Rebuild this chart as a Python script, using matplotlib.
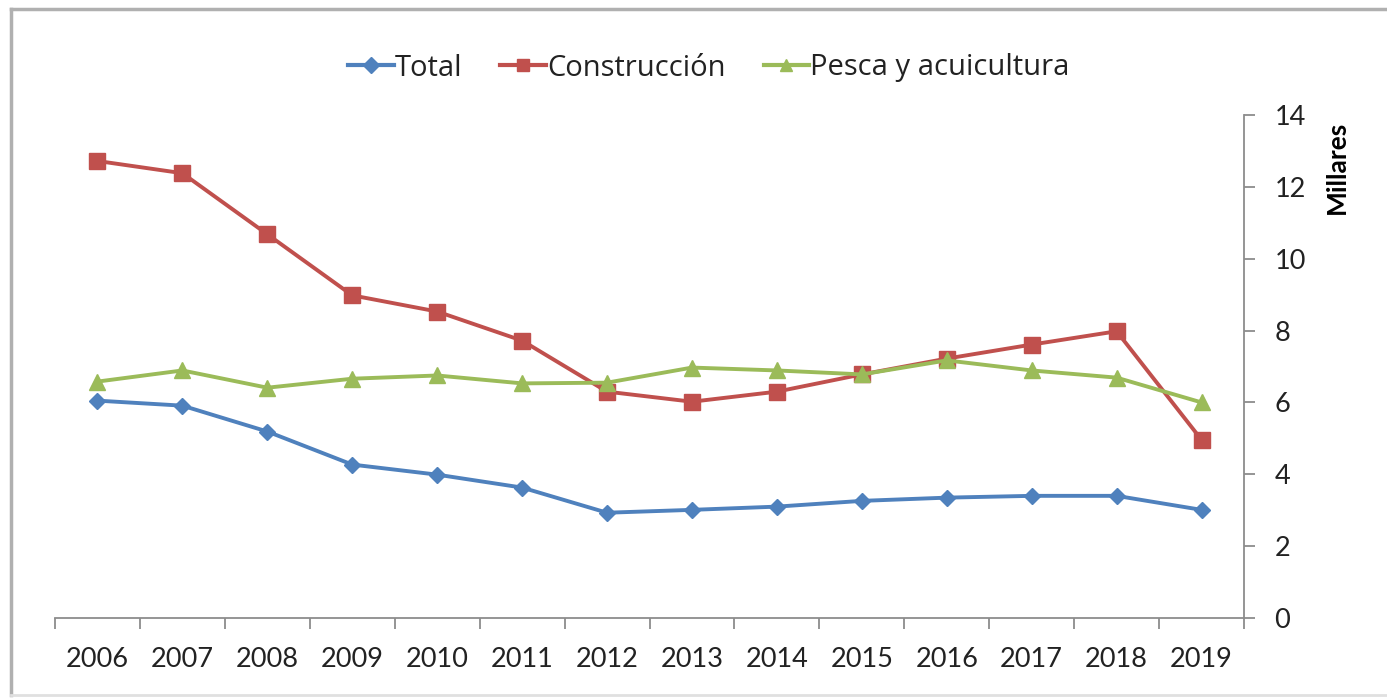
import matplotlib
matplotlib.use("Agg")
import matplotlib.pyplot as plt
from matplotlib.lines import Line2D
import numpy as np

years = ["2006", "2007", "2008", "2009", "2010", "2011", "2012",
         "2013", "2014", "2015", "2016", "2017", "2018", "2019"]
total = [6.05, 5.91, 5.19, 4.27, 3.99, 3.63, 2.93, 3.01, 3.10, 3.26, 3.35, 3.40, 3.40, 3.01]
construccion = [12.72, 12.38, 10.68, 8.98, 8.53, 7.72, 6.30, 6.02, 6.30, 6.78, 7.22, 7.61, 7.98, 4.96]
pesca = [6.58, 6.89, 6.41, 6.66, 6.75, 6.53, 6.55, 6.97, 6.89, 6.78, 7.17, 6.89, 6.69, 6.00]
series_names = ["Total", "Construcción", "Pesca y acuicultura"]
y_ticks = [0, 2, 4, 6, 8, 10, 12, 14]

plt.rcParams['font.family'] = ['Lato', 'DejaVu Sans']

fig = plt.figure(figsize=(13.87, 6.98), dpi=100)
ax = fig.add_axes([55/1387, 1-618/698, (1244-55)/1387, (618-115)/698])

x = np.arange(len(years))
blue, red, green = "#4F81BD", "#C0504D", "#9BBB59"
ax.plot(x, total, color=blue, lw=2.8, marker="D", ms=8, label=series_names[0])
ax.plot(x, construccion, color=red, lw=2.8, marker="s", ms=11, label=series_names[1])
ax.plot(x, pesca, color=green, lw=2.8, marker="^", ms=11, label=series_names[2])

ax.set_xlim(-0.5, len(years) - 0.5)
ax.set_ylim(0, 14)

ax.yaxis.tick_right()
ax.yaxis.set_label_position("right")
ax.set_yticks(y_ticks)
ax.set_yticklabels([str(v) for v in y_ticks], fontsize=19.5, color="#222222")
ax.tick_params(axis="y", length=8, width=1.3, color="#8c8c8c", pad=14)

ax.set_xticks(np.arange(-0.5, len(years), 1.0))
ax.set_xticklabels([])
ax.set_xticks(x, minor=True)
ax.set_xticklabels(years, minor=True, fontsize=19.5, color="#222222")
ax.tick_params(axis="x", which="major", length=8, width=1.3, color="#8c8c8c")
ax.tick_params(axis="x", which="minor", length=0, pad=21)

for s in ["top", "left"]:
    ax.spines[s].set_visible(False)
for s in ["bottom", "right"]:
    ax.spines[s].set_color("#8c8c8c")
    ax.spines[s].set_linewidth(1.3)

ax.set_ylabel("Millares", fontsize=19, fontweight="bold", labelpad=14)
ax.yaxis.set_label_coords(1.068, 0.895)

leg = fig.legend(loc="center", bbox_to_anchor=(709/1387, 1-68/698), ncol=3,
                 frameon=False, handlelength=1.55, columnspacing=1.3,
                 handletextpad=0.05, prop={"family": "Open Sans", "size": 21})
for h in leg.legend_handles:
    h.set_markersize(8)
    h.set_linewidth(3)
for t in leg.get_texts():
    t.set_color("#222222")

# outer border
fig.add_artist(Line2D([11/1387, 11/1387], [1-695/698, 1-9/698], color="#b0b0b0", lw=2.5))
fig.add_artist(Line2D([11/1387, 1.0], [1-9/698, 1-9/698], color="#b0b0b0", lw=2.5))
fig.add_artist(Line2D([11/1387, 1.0], [1-695/698, 1-695/698], color="#e0e0e0", lw=2))

fig.savefig("out.png", dpi=100)
